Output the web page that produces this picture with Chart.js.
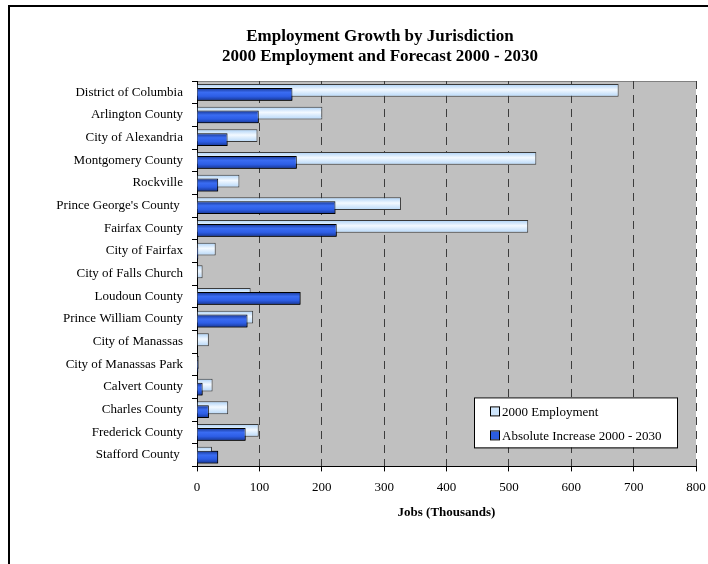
<!DOCTYPE html>
<html>
<head>
<meta charset="utf-8">
<script src="https://cdn.jsdelivr.net/npm/chart.js@4.4.1/dist/chart.umd.min.js"></script>
<style>
  html, body { margin: 0; padding: 0; background: #fff; overflow: hidden; }
  #wrap { position: absolute; left: 0; top: 0; width: 760px; height: 600px; }
</style>
</head>
<body>
<div id="wrap"><canvas id="jobsChart" width="760" height="600"></canvas></div>
<script>
// Employment in 2000 and forecast growth to 2030, thousands of jobs
const jurisdictions = [
  'District of Columbia', 'Arlington County', 'City of Alexandria', 'Montgomery County',
  'Rockville', "Prince George's County ", 'Fairfax County', 'City of Fairfax',
  'City of Falls Church', 'Loudoun County', 'Prince William County', 'City of Manassas',
  'City of Manassas Park', 'Calvert County', 'Charles County', 'Frederick County', 'Stafford County '
]
const employment2000 = [676, 201, 97, 544, 68, 327, 531, 30, 9, 86, 90, 19, 3, 25, 50, 99, 24]
const increase2000to2030 = [153, 99, 49, 160, 34, 222, 224, 2, 0, 166, 81, 0, 2, 9, 19, 78, 34]
const xTicks = [0, 100, 200, 300, 400, 500, 600, 700, 800]

const serif = "'Liberation Serif', 'Times New Roman', serif"
Chart.defaults.font.family = serif
Chart.defaults.color = '#000'

// shaded fill so the bars look like rounded tubes
function tubeFill(stops, shift) {
  return function(c) {
    const chart = c.chart
    const y = chart.scales.y
    if (!chart.chartArea || !y) return stops[1][1]
    const mid = y.getPixelForValue(c.dataIndex) + shift
    const g = chart.ctx.createLinearGradient(0, mid - 6.5, 0, mid + 6.5)
    stops.forEach(s => g.addColorStop(s[0], s[1]))
    return g
  }
}
const lightStops = [[0, '#a8cff6'], [0.45, '#f3f9ff'], [1, '#b4d6f8']]
const darkStops = [[0, '#15348f'], [0.35, '#3a6cf2'], [0.65, '#2d5ee6'], [1, '#15348f']]

// grey plot area and outer frame
const framePlugin = {
  id: 'frame',
  beforeDraw(chart) {
    const {ctx, chartArea: a} = chart
    ctx.save()
    ctx.fillStyle = '#c0c0c0'
    ctx.fillRect(a.left, a.top, a.right - a.left, a.bottom - a.top)
    ctx.strokeStyle = '#808080'
    ctx.lineWidth = 1
    ctx.beginPath()
    ctx.moveTo(a.left, a.top + 0.5)
    ctx.lineTo(a.right, a.top + 0.5)
    ctx.stroke()
    ctx.strokeStyle = '#000'
    ctx.lineWidth = 2
    ctx.strokeRect(9, 6, chart.width - 18, chart.height - 12)
    ctx.restore()
  },
  afterLayout(chart) {
    // centre the title on the whole frame, not the plot
    chart.titleBlock.left = 9
    chart.titleBlock.right = chart.width - 9
  },
  afterDatasetsDraw(chart) {
    // the increase bars overlap the 2000 bars, so paint them again on top
    chart.getDatasetMeta(1).controller.draw()
  }
}

// boxed legend sitting in the lower right of the plot
const boxLegend = {
  id: 'boxLegend',
  afterDraw(chart) {
    const {ctx, chartArea: a} = chart
    const w = 203, h = 50
    const x = a.right - 19 - w, y = a.bottom - 19 - h
    const swatch = ['#cfe6fc', '#2b5ce0']
    ctx.save()
    ctx.fillStyle = '#fff'
    ctx.fillRect(x, y, w, h)
    ctx.strokeStyle = '#000'
    ctx.lineWidth = 1
    ctx.strokeRect(x + 0.5, y + 0.5, w, h)
    ctx.font = '13px ' + serif
    ctx.textBaseline = 'middle'
    chart.data.datasets.forEach((ds, i) => {
      const ty = y + 14 + i * 24
      ctx.fillStyle = swatch[i]
      ctx.fillRect(x + 17, ty - 4, 8, 8)
      ctx.strokeStyle = '#000'
      ctx.strokeRect(x + 16.5, ty - 4.5, 9, 9)
      ctx.fillStyle = '#000'
      ctx.fillText(ds.label, x + 28, ty + 1)
    })
    ctx.restore()
  }
}

const ctx = document.getElementById('jobsChart').getContext('2d')
const jobsChart = new Chart(ctx, {
  type: 'bar',
  data: {
    labels: jurisdictions,
    datasets: [
      {
        label: '2000 Employment',
        data: employment2000,
        backgroundColor: tubeFill(lightStops, -2),
        borderColor: '#3a3a3a',
        borderWidth: 1,
        borderSkipped: 'start'
      },
      {
        label: 'Absolute Increase 2000 - 2030',
        data: increase2000to2030,
        backgroundColor: tubeFill(darkStops, 2),
        borderColor: '#000',
        borderWidth: 1,
        borderSkipped: 'start'
      }
    ]
  },
  plugins: [framePlugin, boxLegend],
  options: {
    indexAxis: 'y',
    responsive: false,
    animation: false,
    categoryPercentage: 0.347,
    barPercentage: 3.25,
    layout: { padding: { top: 5, left: 8, right: 64, bottom: 72 } },
    plugins: {
      legend: { display: false },
      tooltip: { enabled: false },
      title: {
        display: true,
        text: ['Employment Growth by Jurisdiction', '2000 Employment and Forecast 2000 - 2030'],
        font: { size: 17, weight: 'bold', lineHeight: 1.2 },
        color: '#000',
        padding: { top: 21.4, bottom: 13.8 }
      }
    },
    scales: {
      x: {
        min: 0,
        max: 800,
        afterBuildTicks: scale => { scale.ticks = xTicks.map(v => ({ value: v })) },
        ticks: { font: { size: 13, lineHeight: 1 }, padding: 10, color: '#000' },
        grid: { color: '#3c3c3c', tickColor: '#000', tickLength: 5, tickBorderDash: [] },
        border: { color: '#000', width: 1, dash: [8, 6] },
        title: {
          display: true,
          text: 'Jobs (Thousands)',
          font: { size: 13, weight: 'bold', lineHeight: 1.2 },
          padding: { top: 0, bottom: 8 }
        }
      },
      y: {
        afterFit: scale => { scale.width = 189 },
        ticks: { font: { size: 13 }, padding: 9, color: '#000', autoSkip: false },
        grid: { drawOnChartArea: false, tickLength: 5, color: '#000' },
        border: { color: '#000', width: 1 }
      }
    }
  }
})
</script>
</body>
</html>
